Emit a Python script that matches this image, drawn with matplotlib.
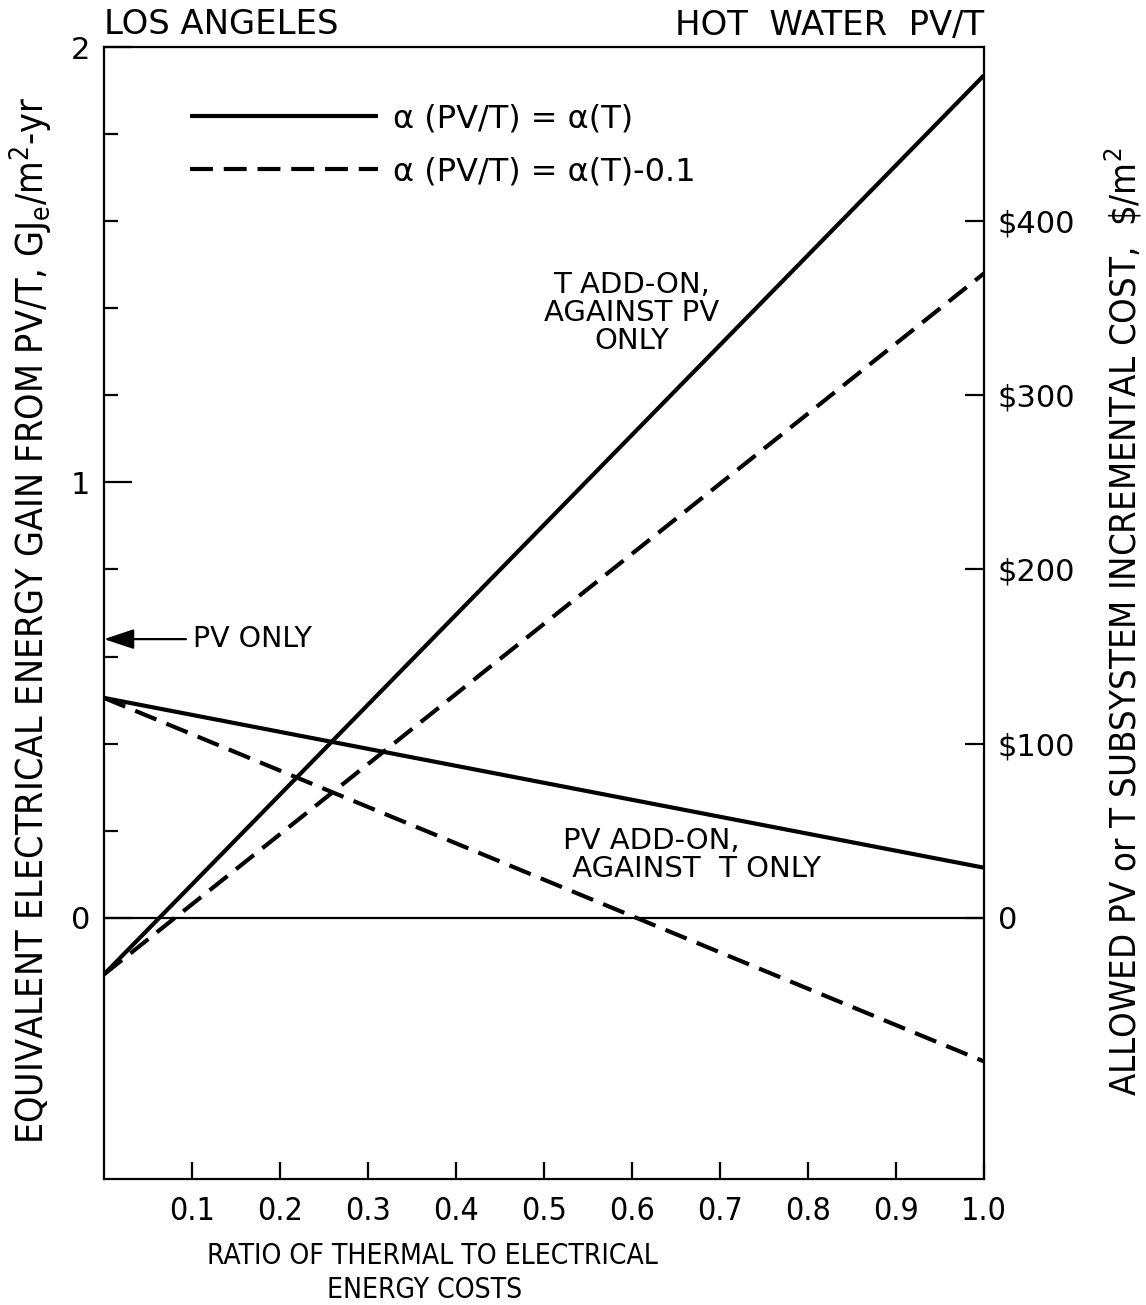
import matplotlib
matplotlib.use("Agg")
import matplotlib.pyplot as plt
from matplotlib import font_manager
from matplotlib.font_manager import FontProperties
from matplotlib.lines import Line2D

# ---------------- data ----------------
x_ends = [0.0, 1.0]
t_addon_solid = [-0.13, 1.935]    # T add-on, alpha(PV/T) = alpha(T)
t_addon_dashed = [-0.13, 1.48]    # T add-on, alpha(PV/T) = alpha(T) - 0.1
pv_addon_solid = [0.505, 0.115]   # PV add-on, alpha(PV/T) = alpha(T)
pv_addon_dashed = [0.505, -0.33]  # PV add-on, alpha(PV/T) = alpha(T) - 0.1
pv_only_value = 0.64

x_ticks = [0.1, 0.2, 0.3, 0.4, 0.5, 0.6, 0.7, 0.8, 0.9, 1.0]
x_ticklabels = ["0.1", "0.2", "0.3", "0.4", "0.5", "0.6", "0.7", "0.8", "0.9", "1.0"]
y_ticks = [0, 1, 2]
y_ticklabels = ["0", "1", "2"]
y_minor = [0.2, 0.4, 0.6, 0.8, 1.2, 1.4, 1.6, 1.8]
cost_ticks = [0, 100, 200, 300, 400]
cost_ticklabels = ["0", "$100", "$200", "$300", "$400"]
dollars_per_unit = 250.0

legend_labels = ["\u03b1 (PV/T) = \u03b1(T)", "\u03b1 (PV/T) = \u03b1(T)-0.1"]

# ---------------- fonts ----------------
cond_path = None
for f in font_manager.fontManager.ttflist:
    nm = (f.fname or "").lower()
    if ("condensed" in nm or "narrow" in nm) and "bold" not in nm and "oblique" not in nm \
            and "italic" not in nm and "light" not in nm and "semi" not in nm:
        cond_path = f.fname
        break
plt.rcParams["font.family"] = ["DejaVu Sans"]
plt.rcParams["mathtext.fontset"] = "dejavusans"


def fp(size):
    if cond_path:
        return FontProperties(fname=cond_path, size=size)
    return FontProperties(family="DejaVu Sans", size=size)


W, H = 1146, 1305
fig = plt.figure(figsize=(W / 100, H / 100), dpi=100)
L, R, T, B = 104, 984, 47, 1179
ax = fig.add_axes([L / W, 1 - B / H, (R - L) / W, (B - T) / H])
ax.set_xlim(0, 1.0)
ax.set_ylim(-0.6, 2.0)

lw = 3.0
dash = (5.5, 2.6)
ax.plot(x_ends, t_addon_solid, color="black", lw=lw, solid_capstyle="butt")
ax.plot(x_ends, t_addon_dashed, color="black", lw=lw, dashes=dash)
ax.plot(x_ends, pv_addon_solid, color="black", lw=lw, solid_capstyle="butt")
ax.plot(x_ends, pv_addon_dashed, color="black", lw=lw, dashes=dash)
ax.axhline(0, color="black", lw=1.6)

for s in ax.spines.values():
    s.set_linewidth(1.6)

# ticks
ax.set_xticks(x_ticks)
ax.set_xticklabels(x_ticklabels, fontproperties=fp(23))
ax.tick_params(axis="x", direction="in", length=12, width=1.6, pad=12)
ax.set_yticks(y_ticks)
ax.set_yticklabels(y_ticklabels)
ax.set_yticks(y_minor, minor=True)
ax.tick_params(axis="y", which="major", direction="in", length=20, width=1.6, labelsize=22, pad=10)
ax.tick_params(axis="y", which="minor", direction="in", length=10, width=1.6)

ax2 = ax.twinx()
ax2.set_ylim(-0.6 * dollars_per_unit, 2.0 * dollars_per_unit)
ax2.set_yticks(cost_ticks)
ax2.set_yticklabels(cost_ticklabels)
ax2.tick_params(axis="y", direction="in", length=14, width=1.6, labelsize=22, pad=10)
for s in ax2.spines.values():
    s.set_visible(False)

renderer = fig.canvas.get_renderer()


def fit_text(txt, target_len, vertical, size0):
    """Scale a text's font size so that its rendered length is target_len pixels."""
    for _ in range(3):
        bb = txt.get_window_extent(renderer=renderer)
        cur = bb.height if vertical else bb.width
        if cur <= 0:
            break
        size0 = size0 * target_len / cur
        txt.set_fontsize(size0)
    return size0


# axis labels (placed in figure pixels)
ylab_left = fig.text(31 / W, 1 - 620 / H,
                     "EQUIVALENT ELECTRICAL ENERGY GAIN FROM PV/T, GJ$_\\mathregular{e}$/m$^\\mathregular{2}$-yr",
                     rotation=90, ha="center", va="center", fontproperties=fp(22))
fit_text(ylab_left, 1050, True, 22)
ylab_right = fig.text(1144 / W, 1 - 622 / H,
                      "ALLOWED PV or T SUBSYSTEM INCREMENTAL COST,  \\$/m$^\\mathregular{2}$",
                      rotation=90, ha="right", va="center", fontproperties=fp(22))
fit_text(ylab_right, 948, True, 22)

xl1 = fig.text(432 / W, 1 - 1256 / H, "RATIO OF THERMAL TO ELECTRICAL",
               ha="center", va="center", fontproperties=fp(23))
s = fit_text(xl1, 450, False, 23)
xl2 = fig.text(425 / W, 1 - 1290 / H, "ENERGY COSTS",
               ha="center", va="center", fontproperties=fp(s))

# titles
t1 = fig.text(L / W, 1 - 25 / H, "LOS ANGELES", ha="left", va="center", fontsize=24)
fit_text(t1, 234, False, 24)
t2 = fig.text(R / W, 1 - 25 / H, "HOT  WATER  PV/T", ha="right", va="center", fontsize=24)
fit_text(t2, 309, False, 24)

# legend
handles = [Line2D([], [], color="black", lw=lw, solid_capstyle="butt"),
           Line2D([], [], color="black", lw=lw, dashes=dash)]
leg = ax.legend(handles, legend_labels, loc="upper left",
                bbox_to_anchor=((190 - L) / (R - L), 1 - (103 - T) / (B - T)),
                frameon=False, fontsize=23, handlelength=5.9, handletextpad=0.45,
                labelspacing=0.7, borderpad=0, borderaxespad=0)

# annotations
ax.annotate("PV ONLY", xy=(0.0, pv_only_value), xytext=(0.101, pv_only_value),
            ha="left", va="center", fontsize=20.5,
            arrowprops=dict(arrowstyle="-|>,head_length=0.9,head_width=0.3",
                            color="black", lw=1.6, shrinkA=3, shrinkB=0))
ax.text(0.6, 1.39, "T ADD-ON,\nAGAINST PV\nONLY", ha="center", va="center",
        fontsize=21, linespacing=1.0)
ax.text(0.522, 0.145, "PV ADD-ON,\n AGAINST  T ONLY", ha="left", va="center",
        fontsize=21, linespacing=1.0)

fig.savefig("out.png", dpi=100)
